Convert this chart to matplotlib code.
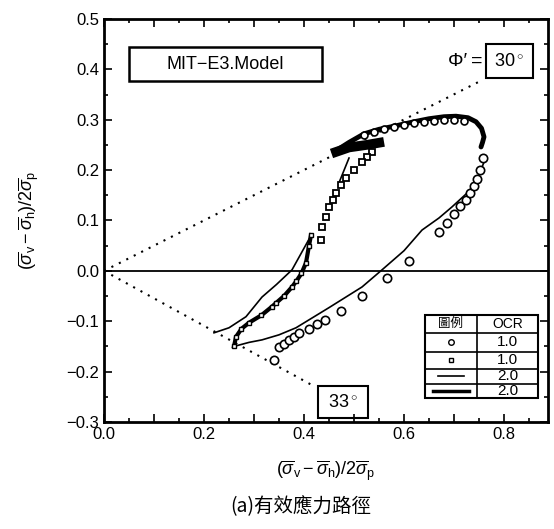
import matplotlib
matplotlib.use('Agg')
import matplotlib.pyplot as plt
import matplotlib.ticker as mticker
from matplotlib.patches import Rectangle

plt.rcParams['font.family'] = ['Liberation Sans', 'Noto Sans CJK TC', 'DejaVu Sans']
plt.rcParams['mathtext.fontset'] = 'custom'
plt.rcParams['mathtext.rm'] = 'Liberation Sans'
plt.rcParams['mathtext.it'] = 'Liberation Sans:italic'

# ── Test data, OCR 1.0 (open circles)
circ_x = [0.340, 0.350, 0.360, 0.370, 0.380, 0.390, 0.410, 0.425, 0.442, 0.474,
          0.516, 0.566, 0.610, 0.670, 0.685, 0.700, 0.712, 0.724, 0.732, 0.740,
          0.746, 0.752, 0.757]
circ_y = [-0.177, -0.152, -0.145, -0.138, -0.131, -0.124, -0.115, -0.105, -0.097, -0.079,
          -0.050, -0.014, 0.020, 0.078, 0.095, 0.112, 0.128, 0.141, 0.155, 0.168,
          0.182, 0.200, 0.224]
top_circ_x = [0.52, 0.54, 0.56, 0.58, 0.60, 0.62, 0.64, 0.66, 0.68, 0.70, 0.72]
top_circ_y = [0.270, 0.276, 0.281, 0.285, 0.289, 0.293, 0.296, 0.298, 0.299, 0.299, 0.297]

# ── Dense test record along the top of the loop
top_x = [0.460, 0.490, 0.520, 0.550, 0.584, 0.620, 0.650, 0.680, 0.704, 0.728,
         0.744, 0.755, 0.760, 0.757, 0.754]
top_y = [0.236, 0.255, 0.272, 0.281, 0.288, 0.296, 0.302, 0.306, 0.307, 0.304,
         0.296, 0.283, 0.266, 0.255, 0.246]
blob_x = [0.455, 0.490, 0.525, 0.560]
blob_y = [0.233, 0.245, 0.250, 0.256]

# ── Test data, OCR 2.0 (small squares)
mid_x = [0.536, 0.525, 0.516, 0.500, 0.484, 0.474, 0.464, 0.457, 0.450, 0.443, 0.436, 0.434]
mid_y = [0.236, 0.226, 0.216, 0.200, 0.184, 0.170, 0.155, 0.141, 0.127, 0.107, 0.087, 0.062]
left_x = [0.414, 0.410, 0.404, 0.395, 0.385, 0.376, 0.360, 0.345, 0.336, 0.315,
          0.290, 0.275, 0.264, 0.260]
left_y = [0.071, 0.050, 0.016, -0.005, -0.020, -0.032, -0.050, -0.063, -0.071, -0.088,
          -0.103, -0.115, -0.131, -0.150]

# ── MIT-E3 model predictions
model1_x = [0.414, 0.395, 0.376, 0.345, 0.316, 0.284, 0.250, 0.220]
model1_y = [0.070, 0.036, 0.002, -0.027, -0.052, -0.091, -0.113, -0.123]
model2_x = [0.260, 0.290, 0.316, 0.350, 0.384, 0.450, 0.516, 0.556, 0.600, 0.636,
            0.670, 0.696, 0.730, 0.748, 0.760]
model2_y = [-0.150, -0.142, -0.137, -0.127, -0.113, -0.073, -0.032, 0.002, 0.040, 0.081,
            0.105, 0.127, 0.158, 0.185, 0.216]
model3_x = [0.490, 0.470]
model3_y = [0.224, 0.175]

# ── Failure envelopes (phi' = 30 deg compression, 33 deg extension)
env_c_x = [0.0, 0.755]
env_c_y = [0.0, 0.378]
env_e_x = [0.0, 0.420]
env_e_y = [0.0, -0.229]

ocr_labels = ['1.0', '1.0', '2.0', '2.0']

fig = plt.figure(figsize=(5.54, 5.29), dpi=100)
ax = fig.add_axes([0.1877, 0.2023, 0.8015, 0.7618])

ax.axhline(0, color='black', lw=1.3, zorder=1)
ax.plot(env_c_x, env_c_y, ls=(0, (1, 3)), color='black', lw=1.5)
ax.plot(env_e_x, env_e_y, ls=(0, (1, 3)), color='black', lw=1.5)

# model lines
for mx, my in [(model1_x, model1_y), (model2_x, model2_y), (model3_x, model3_y)]:
    ax.plot(mx, my, color='black', lw=1.2)

# test records
ax.plot(top_x, top_y, color='black', lw=3.5, solid_capstyle='round')
ax.plot(blob_x, blob_y, color='black', lw=7, solid_capstyle='butt')
ax.plot(left_x, left_y, color='black', lw=3)
ax.plot(left_x, left_y, ls='none', marker='s', ms=3.5, mfc='white', mec='black', mew=1)
ax.plot(mid_x, mid_y, ls='none', marker='s', ms=4.5, mfc='white', mec='black', mew=1.3)
ax.plot(circ_x, circ_y, ls='none', marker='o', ms=6, mfc='white', mec='black', mew=1.2)
ax.plot(top_circ_x, top_circ_y, ls='none', marker='o', ms=5, mfc='white', mec='black', mew=1.2)

ax.set_xlim(0, 0.888)
ax.set_ylim(-0.3, 0.5)
ax.xaxis.set_major_locator(mticker.MultipleLocator(0.1))
ax.xaxis.set_minor_locator(mticker.MultipleLocator(0.05))
ax.yaxis.set_major_locator(mticker.MultipleLocator(0.1))
ax.yaxis.set_minor_locator(mticker.MultipleLocator(0.05))


def xfmt(v, pos):
    k = int(round(v * 10))
    return f'{v:.1f}' if k % 2 == 0 else ''


ax.xaxis.set_major_formatter(mticker.FuncFormatter(xfmt))
ax.yaxis.set_major_formatter(mticker.FuncFormatter(
    lambda v, pos: f'{v:.1f}'.replace('-', '\u2212')))
ax.tick_params(which='both', direction='in', top=True, right=True,
               labelsize=12, width=1.2)
ax.tick_params(which='major', length=6)
ax.tick_params(which='minor', length=3)
for s in ax.spines.values():
    s.set_linewidth(2)

ax.set_xlabel(r'$(\overline{\sigma}_{\mathrm{v}}-\overline{\sigma}_{\mathrm{h}})/2\overline{\sigma}_{\mathrm{p}}$',
              fontsize=13, labelpad=12)
ax.set_ylabel(r'$(\overline{\sigma}_{\mathrm{v}}-\overline{\sigma}_{\mathrm{h}})/2\overline{\sigma}_{\mathrm{p}}$',
              fontsize=13, labelpad=18)
fig.text(0.542, 0.043, '(a)有效應力路徑', ha='center', va='center', fontsize=14,
         family=['Noto Sans CJK TC', 'Liberation Sans'])

# annotation boxes
ax.add_patch(Rectangle((0.056, 0.846), 0.435, 0.084, transform=ax.transAxes,
                       fill=False, lw=1.8, ec='black'))
ax.text(0.273, 0.888, 'MIT\u2212E3.Model', transform=ax.transAxes,
        ha='center', va='center', fontsize=13)
ax.add_patch(Rectangle((0.860, 0.854), 0.106, 0.084, transform=ax.transAxes,
                       fill=False, lw=1.5, ec='black'))
ax.text(0.913, 0.895, '30$^\\circ$', transform=ax.transAxes,
        ha='center', va='center', fontsize=13)
ax.text(0.852, 0.895, '\u03a6\u2032\u2009=', transform=ax.transAxes,
        ha='right', va='center', fontsize=14)
ax.add_patch(Rectangle((0.482, 0.01), 0.113, 0.079, transform=ax.transAxes,
                       fill=False, lw=1.5, ec='black'))
ax.text(0.538, 0.048, '33$^\\circ$', transform=ax.transAxes,
        ha='center', va='center', fontsize=13)

# legend table
tx0, tx1, tdiv = 0.723, 0.977, 0.840
row_edges = [0.266, 0.221, 0.174, 0.132, 0.094, 0.060]
ax.add_patch(Rectangle((tx0, row_edges[-1]), tx1 - tx0, row_edges[0] - row_edges[-1],
                       transform=ax.transAxes, fill=True, fc='white', ec='black',
                       lw=1.5, zorder=5))
for yy in row_edges[1:-1]:
    ax.plot([tx0, tx1], [yy, yy], transform=ax.transAxes, color='black', lw=1.2, zorder=6)
ax.plot([tdiv, tdiv], [row_edges[-1], row_edges[0]], transform=ax.transAxes,
        color='black', lw=1.2, zorder=6)
ax.text((tx0 + tdiv) / 2, (row_edges[0] + row_edges[1]) / 2, '圖例',
        transform=ax.transAxes, ha='center', va='center', fontsize=9,
        family=['Noto Sans CJK TC'], zorder=7)
ax.text((tdiv + tx1) / 2, (row_edges[0] + row_edges[1]) / 2, 'OCR',
        transform=ax.transAxes, ha='center', va='center', fontsize=10, zorder=7)
xm = (tx0 + tdiv) / 2
for i, lab in enumerate(ocr_labels):
    yc = (row_edges[i + 1] + row_edges[i + 2]) / 2
    ax.text((tdiv + tx1) / 2, yc, lab, transform=ax.transAxes,
            ha='center', va='center', fontsize=11, zorder=7)
    if i == 0:
        ax.plot([xm], [yc], transform=ax.transAxes, marker='o', ms=4,
                mfc='white', mec='black', zorder=7)
    elif i == 1:
        ax.plot([xm], [yc], transform=ax.transAxes, marker='s', ms=3.5,
                mfc='white', mec='black', zorder=7)
    elif i == 2:
        ax.plot([xm - 0.03, xm + 0.03], [yc, yc], transform=ax.transAxes,
                color='black', lw=1.2, zorder=7)
    else:
        ax.plot([xm - 0.04, xm + 0.04], [yc, yc], transform=ax.transAxes,
                color='black', lw=2.5, zorder=7)

fig.savefig('out.png', dpi=100)
